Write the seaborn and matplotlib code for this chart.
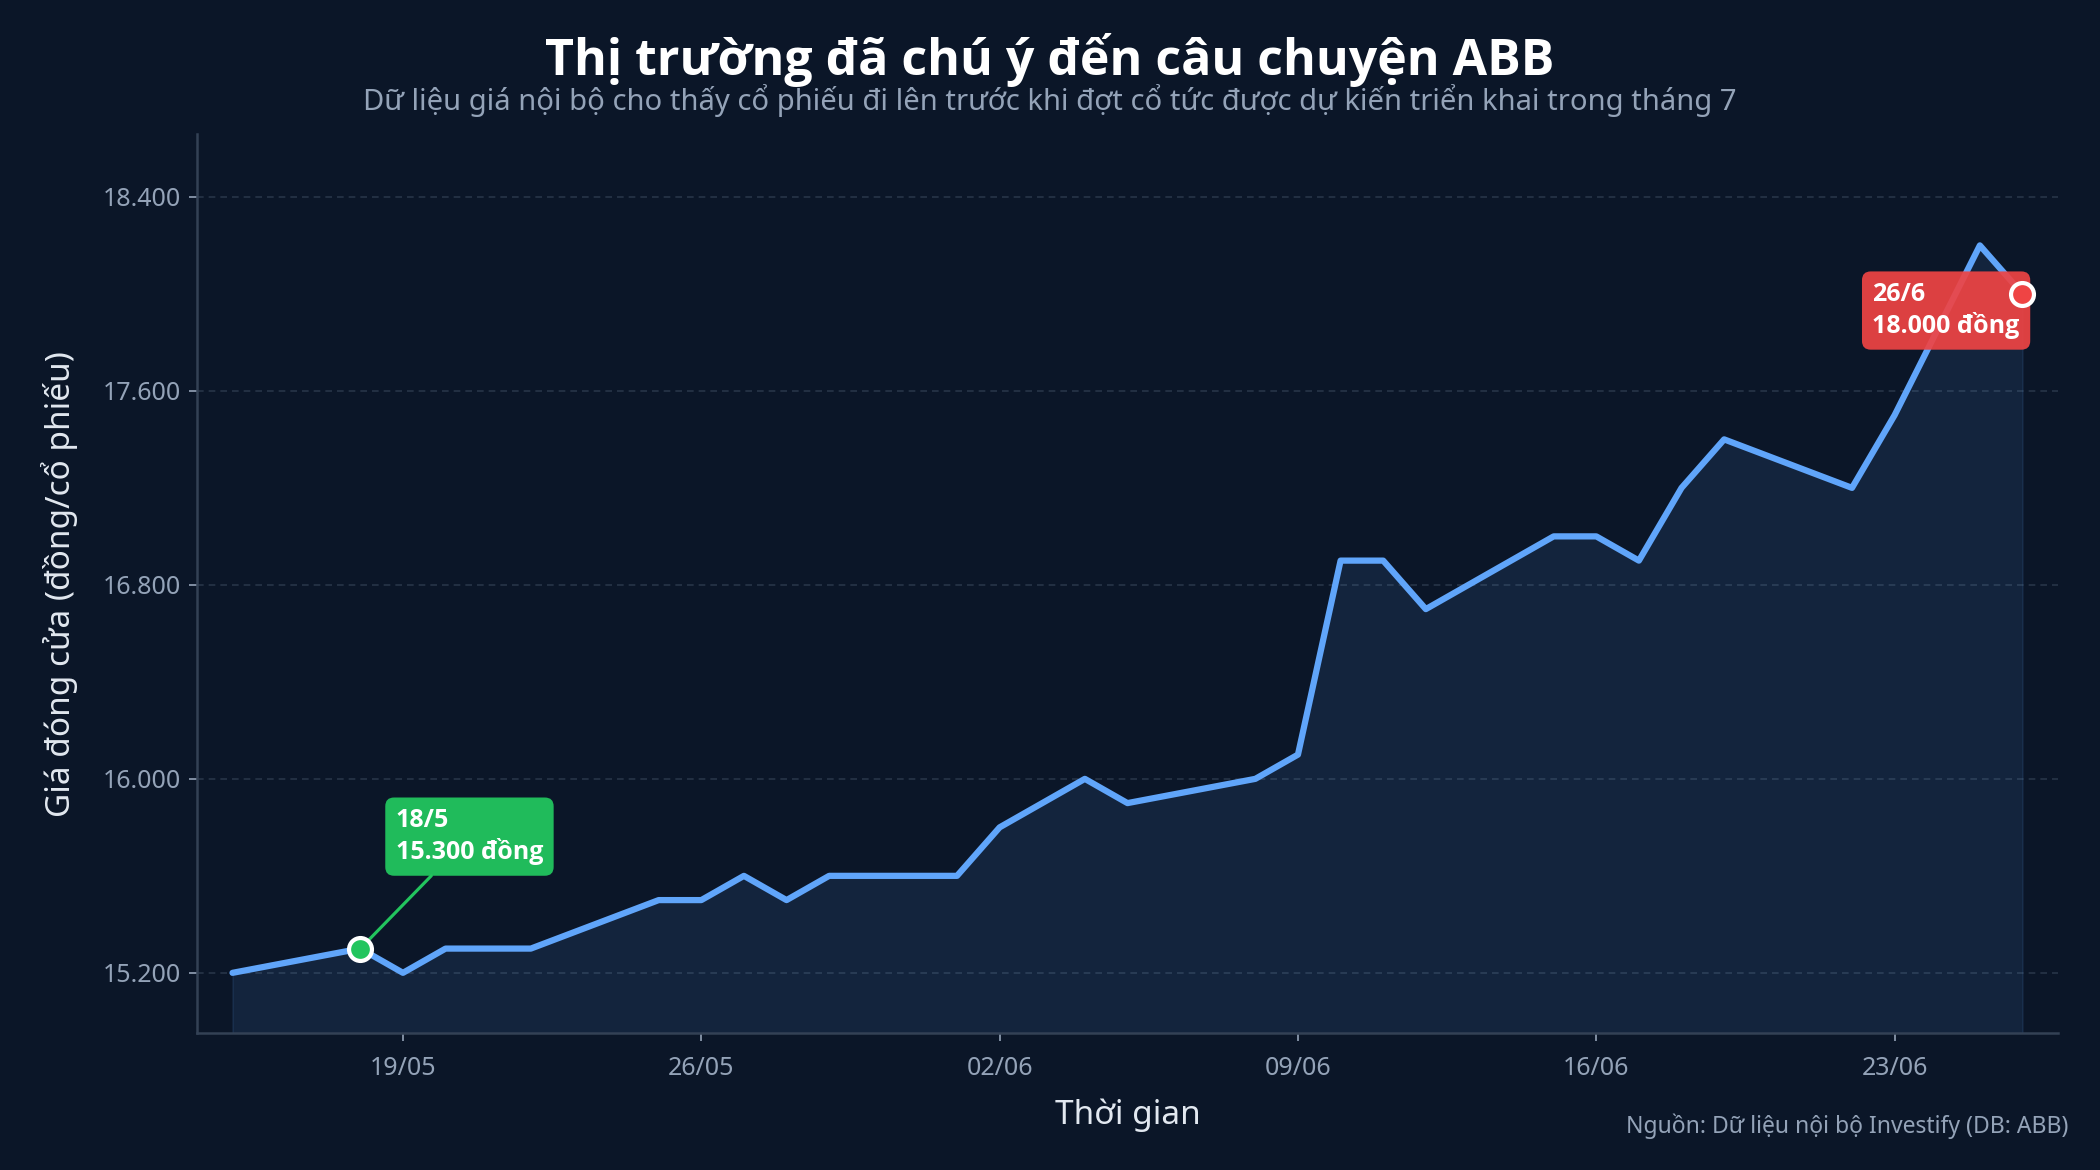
import numpy as np
import pandas as pd
import matplotlib
matplotlib.use("Agg")
import matplotlib.pyplot as plt
import matplotlib.dates as mdates
import matplotlib.ticker as mticker
import seaborn as sns

# du lieu gia dong cua ABB (dong/co phieu)
dates = ["2026-05-15", "2026-05-18", "2026-05-19", "2026-05-20", "2026-05-21",
         "2026-05-22", "2026-05-25", "2026-05-26", "2026-05-27", "2026-05-28",
         "2026-05-29", "2026-06-01", "2026-06-02", "2026-06-03", "2026-06-04",
         "2026-06-05", "2026-06-08", "2026-06-09", "2026-06-10", "2026-06-11",
         "2026-06-12", "2026-06-15", "2026-06-16", "2026-06-17", "2026-06-18",
         "2026-06-19", "2026-06-22", "2026-06-23", "2026-06-24", "2026-06-25",
         "2026-06-26"]
prices = [15200, 15300, 15200, 15300, 15300,
          15300, 15500, 15500, 15600, 15500,
          15600, 15600, 15800, 15900, 16000,
          15900, 16000, 16100, 16900, 16900,
          16700, 17000, 17000, 16900, 17200,
          17400, 17200, 17500, 17850, 18200,
          18000]
y_ticks = [15200, 16000, 16800, 17600, 18400]

low_date, low_label = "2026-05-18", "18/5\n15.300 đồng"
high_date, high_label = "2026-06-26", "26/6\n18.000 đồng"

df = pd.DataFrame({"date": pd.to_datetime(dates), "price": prices})

BG = "#0b1628"
LINE = "#60a5fa"
GREEN = "#22c55e"
RED = "#ef4444"
BOLD = ["Open Sans", "DejaVu Sans"]

sns.set_theme(style="dark")
plt.rcParams["font.family"] = ["Noto Sans", "DejaVu Sans"]

fig = plt.figure(figsize=(14, 7.8), dpi=150, facecolor=BG)
ax = fig.add_axes([0.0938, 0.1167, 0.8862, 0.7689])
ax.set_facecolor(BG)

ymin = 14950
ax.fill_between(df["date"], df["price"], ymin, color=LINE, alpha=0.1, lw=0.8,
                edgecolor=(0.38, 0.65, 0.98, 0.08), zorder=1)
sns.lineplot(data=df, x="date", y="price", ax=ax, color=LINE, lw=3, zorder=3)

ax.set_ylim(ymin, 18660)
ax.set_xlim(pd.Timestamp("2026-05-15") - pd.Timedelta(hours=20),
            pd.Timestamp("2026-06-26") + pd.Timedelta(hours=20))
ax.set_yticks(y_ticks)
ax.yaxis.set_major_formatter(mticker.FuncFormatter(lambda v, p: f"{int(v):,}".replace(",", ".")))
ax.xaxis.set_major_locator(mdates.WeekdayLocator(byweekday=mdates.TU))
ax.xaxis.set_major_formatter(mdates.DateFormatter("%d/%m"))

ax.grid(axis="y", color="#334155", ls=(0, (4, 3)), lw=0.8, alpha=0.7)
ax.grid(axis="x", visible=False)
for s in ["top", "right"]:
    ax.spines[s].set_visible(False)
for s in ["left", "bottom"]:
    ax.spines[s].set_color("#334155")
    ax.spines[s].set_linewidth(1.2)
ax.tick_params(colors="#94a3b8", labelsize=12, length=4, width=0.8,
               bottom=True, left=True)
ax.tick_params(axis="x", pad=7)

ax.set_xlabel("Thời gian", color="#e2e8f0", fontsize=16, labelpad=8)
ax.set_ylabel("Giá đóng cửa (đồng/cổ phiếu)", color="#e2e8f0", fontsize=16, labelpad=12)

# diem thap / diem cao
for d, lab, col, off, arrow in [
        (low_date, low_label, GREEN, (17, 40), True),
        (high_date, high_label, RED, (-72, -8), False)]:
    t = pd.Timestamp(d)
    v = df.loc[df["date"] == t, "price"].iloc[0]
    ax.annotate(lab, xy=(t, v), xytext=off, textcoords="offset points",
                ha="left", va="bottom" if arrow else "center", fontsize=12,
                fontweight="bold", family=BOLD, color="white", linespacing=1.25,
                bbox=dict(boxstyle="round,pad=0.42,rounding_size=0.35",
                          fc=col, ec="none", alpha=0.95 if arrow else 0.92),
                arrowprops=dict(arrowstyle="-", color=col, lw=1.5,
                                shrinkA=0, shrinkB=6) if arrow else None,
                zorder=4)
    ax.plot([t], [v], "o", ms=11, mfc=col, mec="white", mew=2, zorder=5)

fig.text(0.5, 0.949, "Thị trường đã chú ý đến câu chuyện ABB", ha="center",
         va="center", color="white", fontsize=24, fontweight="bold", family=BOLD)
fig.text(0.5, 0.914, "Dữ liệu giá nội bộ cho thấy cổ phiếu đi lên trước khi đợt cổ tức "
         "được dự kiến triển khai trong tháng 7", ha="center", va="center",
         color="#94a3b8", fontsize=14)
fig.text(0.985, 0.037, "Nguồn: Dữ liệu nội bộ Investify (DB: ABB)", ha="right",
         va="center", color="#94a3b8", fontsize=11)

fig.savefig("out.png", dpi=150, facecolor=BG)
